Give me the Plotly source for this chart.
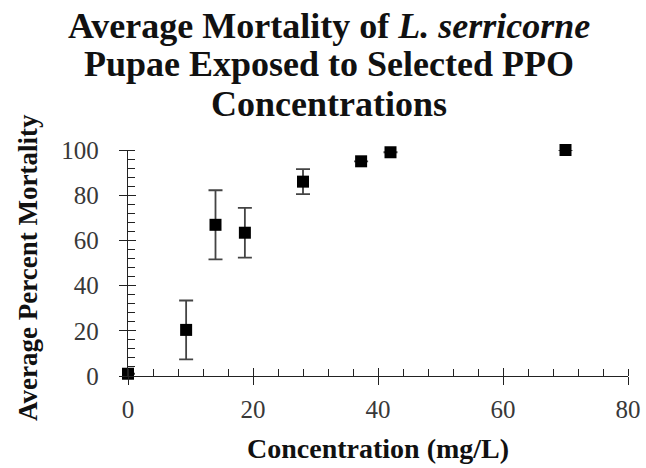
import plotly.graph_objects as go

concentration = [0, 9.3, 14, 18.7, 28, 37.3, 42, 70]
mortality = [1, 20.4, 66.9, 63.4, 86, 95, 99, 100]
mortality_err = [0, 13, 15.3, 11, 5.5, 0, 0, 0]

x_ticks = [0, 20, 40, 60, 80]
y_ticks = [0, 20, 40, 60, 80, 100]

title_lines = [
    "<b>Average Mortality of <i>L. serricorne</i></b>",
    "<b>Pupae Exposed to Selected PPO</b>",
    "<b>Concentrations</b>",
]
title_y = [1.5487, 1.381, 1.2035]

serif = "Liberation Serif"
tick_color = "#383838"
text_color = "#111111"

fig = go.Figure()
fig.add_trace(go.Scatter(
    x=concentration,
    y=mortality,
    mode="markers",
    marker=dict(symbol="square", size=12, color="black"),
    error_y=dict(type="data", array=mortality_err, visible=True,
                 color="#444444", thickness=1.8, width=7),
    cliponaxis=False,
    showlegend=False,
))
# overlay axes only carry the inner half of the crossing major ticks
fig.add_trace(go.Scatter(x=[None], y=[None], xaxis="x2", yaxis="y2",
                         showlegend=False, hoverinfo="skip"))

axis_common = dict(showgrid=False, zeroline=False, showline=True,
                   linecolor="#222222", linewidth=1.3, tickcolor="#222222",
                   tickwidth=1.3, mirror=False, automargin=False)

annotations = []
for line, ypos in zip(title_lines, title_y):
    annotations.append(dict(
        text=line, xref="paper", yref="paper", x=0.401, y=ypos,
        xanchor="center", yanchor="middle", showarrow=False,
        font=dict(family=serif, size=36, color=text_color)))
annotations.append(dict(
    text="<b>Concentration (mg/L)</b>", xref="paper", yref="paper",
    x=0.5, y=-0.321, xanchor="center", yanchor="middle", showarrow=False,
    font=dict(family=serif, size=28, color=text_color)))
annotations.append(dict(
    text="<b>Average Percent Mortality</b>", xref="paper", yref="paper",
    x=-0.2, y=0.478, xanchor="center", yanchor="middle", textangle=-90,
    showarrow=False, font=dict(family=serif, size=27, color=text_color)))

fig.update_layout(
    width=646, height=468,
    margin=dict(l=128, r=18, t=150, b=92),
    plot_bgcolor="white", paper_bgcolor="white",
    font=dict(family=serif, color=tick_color, size=25),
    xaxis=dict(range=[0, 80], tickvals=x_ticks, ticks="outside", ticklen=8,
               tickfont=dict(family=serif, size=25, color=tick_color),
               ticklabelstandoff=3,
               minor=dict(dtick=4, ticks="inside", ticklen=7,
                          tickcolor="#222222", tickwidth=1.1),
               **axis_common),
    yaxis=dict(range=[0, 100], tickvals=y_ticks, ticks="outside", ticklen=8,
               tickfont=dict(family=serif, size=25, color=tick_color),
               ticklabelstandoff=15,
               minor=dict(dtick=4, ticks="inside", ticklen=7,
                          tickcolor="#222222", tickwidth=1.1),
               **axis_common),
    xaxis2=dict(range=[0, 80], tickvals=x_ticks, ticks="inside", ticklen=8,
                showticklabels=False, overlaying="x", anchor="y2",
                **axis_common),
    yaxis2=dict(range=[0, 100], tickvals=y_ticks, ticks="inside", ticklen=8,
                showticklabels=False, overlaying="y", anchor="x2",
                **axis_common),
    annotations=annotations,
)

# drop the default body margin so the figure fills the window exactly
fig.write_html("out.html",
               config={"displayModeBar": False},
               post_script="document.body.style.margin='0';"
                           "document.body.style.overflow='hidden';")
